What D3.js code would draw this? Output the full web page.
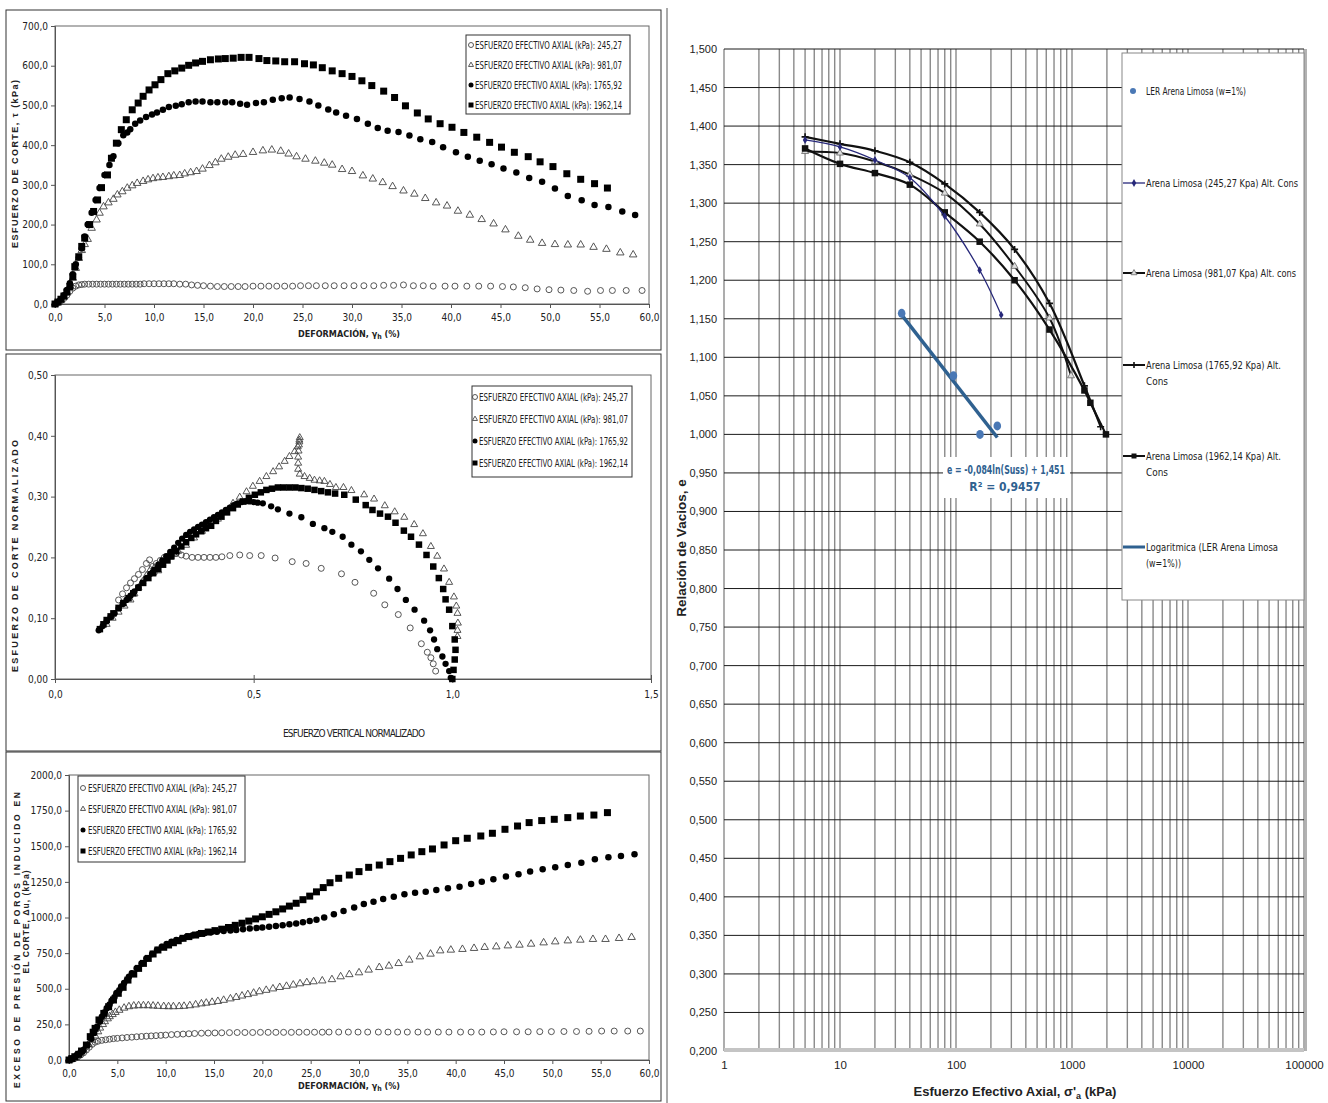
<!DOCTYPE html>
<html>
<head>
<meta charset="utf-8">
<script src="https://cdn.jsdelivr.net/npm/d3@7"></script>
<style>
body { margin: 0; background: #fff; }
text { font-family: "Liberation Sans Narrow", "DejaVu Sans Condensed", "Liberation Sans", sans-serif; }
</style>
</head>
<body>
<svg id="fig" width="1328" height="1103"></svg>
<script>
// ---------- data: shear stress vs strain (kPa vs %) ----------
var tauOc245 = [[0,0],[0.3,3],[0.6,8],[0.9,14],[1.2,22],[1.5,32],[1.8,40],[2.1,45],[2.4,48],[2.7,49],[3.0,50],[3.4,50],[3.8,50],[4.2,50],[4.6,50],[5.0,50],[5.4,50],[5.8,50],[6.2,50],[6.6,50],[7.0,50],[7.4,50],[7.8,50],[8.2,50],[8.6,50],[9.0,51],[9.5,51],[10.0,51],[10.5,51],[11.0,51],[11.5,51],[12.0,51],[12.6,50],[13.2,50],[13.8,48],[14.4,47],[15.0,46],[15.7,45],[16.4,44],[17.1,44],[17.8,44],[18.5,44],[19.2,44],[20.0,45],[20.8,45],[21.6,45],[22.4,45],[23.2,45],[24.0,45],[24.8,46],[25.6,46],[26.4,46],[27.3,46],[28.2,46],[29.2,46],[30.2,46],[31.2,46],[32.2,46],[33.2,47],[34.2,47],[35.2,48],[36.2,46],[37.2,46],[38.2,45],[39.4,45],[40.4,45],[41.6,45],[42.8,45],[44.0,45],[45.2,44],[46.3,43],[47.5,41],[48.7,38],[49.9,36],[51.1,35],[52.4,34],[53.8,32],[55.1,34],[56.3,34],[57.7,34],[59.3,34]];
var tauTri981 = [[0,0],[0.3,4],[0.6,10],[0.9,18],[1.2,30],[1.5,45],[1.8,65],[2.1,90],[2.4,115],[2.7,135],[3.0,150],[3.3,163],[3.7,191],[4.2,212],[4.5,229],[4.9,245],[5.4,255],[5.9,264],[6.3,275],[6.8,283],[7.3,292],[7.8,298],[8.3,304],[8.9,309],[9.4,313],[9.9,316],[10.4,318],[10.9,319],[11.5,321],[12.0,323],[12.6,324],[13.1,328],[13.7,331],[14.3,334],[14.9,340],[15.6,349],[16.2,356],[16.8,365],[17.5,370],[18.2,375],[19.0,377],[20.0,382],[21.0,386],[21.9,388],[22.8,385],[23.6,378],[24.4,371],[25.3,365],[26.3,360],[27.2,355],[28.0,350],[29.0,339],[30.0,334],[31.1,323],[32.1,315],[33.1,306],[34.1,296],[35.2,285],[36.3,277],[37.4,266],[38.5,255],[39.6,247],[40.7,234],[41.9,224],[43.1,213],[44.3,202],[45.5,187],[46.8,171],[48.0,161],[49.2,153],[50.5,150],[51.8,149],[53.1,149],[54.4,143],[55.7,138],[57.1,129],[58.4,124]];
var tauDot1765 = [[0,0],[0.3,5],[0.6,12],[0.9,22],[1.2,35],[1.5,52],[1.8,75],[2.1,100],[2.4,118],[2.7,140],[3.0,170],[3.3,200],[3.7,230],[4.1,262],[4.5,292],[5.0,325],[5.5,350],[5.9,372],[6.4,405],[6.9,425],[7.3,432],[7.6,440],[8.1,454],[8.6,462],[9.2,471],[9.8,477],[10.3,482],[10.9,489],[11.5,496],[12.2,499],[12.8,503],[13.5,508],[14.2,510],[14.9,510],[15.7,508],[16.4,508],[17.2,508],[17.9,508],[18.7,504],[19.4,502],[20.3,506],[21.1,508],[22.0,514],[22.9,518],[23.7,520],[24.7,516],[25.7,510],[26.6,500],[27.6,490],[28.4,482],[29.4,474],[30.5,466],[31.6,454],[32.6,443],[33.6,436],[34.7,433],[35.8,424],[36.9,415],[38.1,408],[39.2,395],[40.5,382],[41.7,371],[42.9,361],[44.1,352],[45.3,341],[46.6,331],[47.9,317],[49.2,308],[50.5,291],[51.8,272],[53.2,261],[54.5,249],[55.9,244],[57.3,233],[58.6,224]];
var tauSq1962 = [[0,0],[0.3,5],[0.6,12],[0.9,20],[1.2,30],[1.5,44],[1.8,69],[2.0,94],[2.4,119],[2.7,145],[3.0,166],[3.5,200],[3.9,233],[4.3,262],[4.7,293],[5.3,325],[5.7,367],[6.2,405],[6.7,439],[7.2,464],[7.8,489],[8.4,506],[8.9,523],[9.5,539],[10.1,552],[10.7,565],[11.4,580],[12.1,587],[12.8,594],[13.5,601],[14.2,607],[14.9,611],[15.7,615],[16.5,617],[17.2,618],[18.0,619],[18.8,621],[19.6,621],[20.6,618],[21.4,613],[22.3,612],[23.2,610],[24.2,610],[25.2,605],[26.1,602],[27.0,595],[28.0,587],[29.0,580],[30.0,573],[31.0,562],[32.0,550],[33.2,536],[34.3,520],[35.4,499],[36.6,481],[37.7,466],[38.9,454],[40.1,445],[41.3,432],[42.6,420],[43.9,407],[45.1,395],[46.4,382],[47.8,371],[49.0,358],[50.3,346],[51.7,328],[53.1,314],[54.5,303],[55.8,292]];

// ---------- data: normalised stress path ----------
var pathOc245 = [[0.16,0.13],[0.17,0.14],[0.18,0.15],[0.19,0.158],[0.2,0.165],[0.21,0.172],[0.22,0.18],[0.23,0.19],[0.238,0.196],[0.245,0.185],[0.25,0.175],[0.255,0.19],[0.265,0.195],[0.275,0.2],[0.29,0.204],[0.305,0.207],[0.318,0.204],[0.33,0.202],[0.345,0.2],[0.36,0.2],[0.375,0.2],[0.39,0.2],[0.405,0.2],[0.42,0.201],[0.44,0.203],[0.465,0.204],[0.49,0.203],[0.519,0.203],[0.554,0.199],[0.597,0.193],[0.632,0.19],[0.67,0.182],[0.721,0.173],[0.755,0.159],[0.802,0.141],[0.83,0.122],[0.864,0.106],[0.894,0.084],[0.922,0.058],[0.937,0.044],[0.946,0.035],[0.952,0.025],[0.958,0.013]];
var pathTri981 = [[0.13,0.09],[0.145,0.1],[0.16,0.11],[0.175,0.12],[0.19,0.13],[0.2,0.14],[0.21,0.15],[0.22,0.16],[0.23,0.17],[0.24,0.18],[0.25,0.183],[0.26,0.178],[0.27,0.19],[0.28,0.195],[0.29,0.2],[0.3,0.205],[0.31,0.21],[0.33,0.22],[0.35,0.232],[0.37,0.243],[0.39,0.252],[0.41,0.263],[0.431,0.275],[0.448,0.289],[0.465,0.299],[0.482,0.308],[0.498,0.317],[0.515,0.325],[0.532,0.333],[0.549,0.341],[0.564,0.349],[0.578,0.358],[0.59,0.366],[0.603,0.374],[0.611,0.382],[0.615,0.39],[0.616,0.397],[0.615,0.393],[0.614,0.385],[0.613,0.375],[0.612,0.365],[0.612,0.355],[0.612,0.345],[0.616,0.337],[0.628,0.333],[0.641,0.33],[0.653,0.327],[0.666,0.326],[0.678,0.325],[0.692,0.32],[0.707,0.315],[0.726,0.315],[0.746,0.31],[0.778,0.303],[0.803,0.296],[0.83,0.285],[0.855,0.275],[0.879,0.266],[0.904,0.254],[0.926,0.239],[0.946,0.218],[0.962,0.202],[0.979,0.181],[0.992,0.159],[1.004,0.135],[1.01,0.12],[1.013,0.108],[1.014,0.092],[1.013,0.08],[1.013,0.07]];
var pathDot1765 = [[0.11,0.08],[0.12,0.087],[0.13,0.095],[0.14,0.102],[0.15,0.108],[0.16,0.116],[0.17,0.123],[0.18,0.13],[0.19,0.137],[0.2,0.144],[0.21,0.151],[0.22,0.158],[0.23,0.166],[0.24,0.173],[0.25,0.18],[0.26,0.188],[0.27,0.195],[0.28,0.202],[0.29,0.209],[0.3,0.216],[0.31,0.224],[0.32,0.231],[0.33,0.237],[0.34,0.242],[0.35,0.246],[0.36,0.25],[0.37,0.254],[0.38,0.258],[0.39,0.262],[0.4,0.266],[0.41,0.27],[0.42,0.274],[0.43,0.278],[0.44,0.282],[0.45,0.286],[0.46,0.289],[0.47,0.291],[0.48,0.292],[0.49,0.292],[0.5,0.291],[0.51,0.29],[0.523,0.289],[0.544,0.284],[0.561,0.279],[0.59,0.272],[0.62,0.266],[0.649,0.255],[0.678,0.248],[0.698,0.242],[0.724,0.234],[0.746,0.221],[0.77,0.21],[0.791,0.196],[0.813,0.182],[0.841,0.165],[0.862,0.148],[0.883,0.13],[0.905,0.114],[0.929,0.096],[0.944,0.08],[0.954,0.065],[0.962,0.049],[0.975,0.037],[0.983,0.025],[0.992,0.013],[0.996,0.002]];
var pathSq1962 = [[0.113,0.082],[0.122,0.09],[0.13,0.097],[0.14,0.103],[0.147,0.108],[0.16,0.117],[0.172,0.125],[0.185,0.133],[0.197,0.141],[0.21,0.15],[0.222,0.158],[0.235,0.166],[0.247,0.174],[0.26,0.181],[0.272,0.188],[0.283,0.195],[0.293,0.202],[0.305,0.21],[0.318,0.218],[0.33,0.225],[0.343,0.232],[0.355,0.238],[0.368,0.243],[0.38,0.248],[0.393,0.252],[0.405,0.26],[0.419,0.267],[0.433,0.274],[0.448,0.281],[0.46,0.287],[0.473,0.292],[0.488,0.298],[0.503,0.303],[0.518,0.307],[0.532,0.311],[0.546,0.313],[0.561,0.315],[0.575,0.315],[0.59,0.315],[0.605,0.315],[0.62,0.314],[0.636,0.313],[0.653,0.311],[0.67,0.309],[0.687,0.307],[0.705,0.305],[0.728,0.303],[0.757,0.295],[0.782,0.286],[0.799,0.278],[0.818,0.272],[0.838,0.267],[0.857,0.257],[0.878,0.244],[0.896,0.234],[0.916,0.221],[0.935,0.204],[0.952,0.185],[0.966,0.166],[0.977,0.148],[0.983,0.131],[0.992,0.114],[1.0,0.087],[1.006,0.065],[1.008,0.048],[1.006,0.032],[1.003,0.015],[1.0,0.0]];

// ---------- data: excess pore pressure vs strain (kPa vs %) ----------
var duOc245 = [[0,0],[0.3,5],[0.6,12],[0.9,22],[1.2,35],[1.5,50],[1.8,70],[2.1,90],[2.4,110],[2.7,125],[3.0,132],[3.4,138],[3.8,142],[4.2,146],[4.6,150],[5.0,152],[5.5,155],[6.0,158],[6.5,160],[7.0,163],[7.5,165],[8.0,167],[8.5,169],[9.0,171],[9.5,173],[10.0,175],[10.6,178],[11.2,180],[11.8,182],[12.4,184],[13.0,186],[13.7,188],[14.4,189],[15.1,190],[15.8,191],[16.6,192],[17.4,193],[18.2,193],[19.0,193],[19.8,194],[20.6,194],[21.4,194],[22.2,194],[23.0,194],[23.8,195],[24.6,195],[25.4,195],[26.2,195],[26.9,196],[27.9,196],[28.9,196],[29.9,196],[30.9,196],[32.0,196],[33.0,196],[34.0,196],[35.0,196],[36.1,196],[37.1,196],[38.2,196],[39.3,196],[40.5,196],[41.6,196],[42.7,196],[43.9,197],[45.0,198],[46.3,198],[47.5,198],[48.7,199],[49.9,199],[51.2,200],[52.5,200],[53.8,201],[55.1,203],[56.4,203],[57.8,203],[59.1,203]];
var duTri981 = [[0,0],[0.3,5],[0.7,20],[1.1,45],[1.5,70],[2.0,110],[2.4,140],[2.7,170],[3.0,199],[3.2,225],[3.5,250],[3.7,270],[4.0,290],[4.2,305],[4.5,320],[4.8,335],[5.2,350],[5.7,365],[6.2,375],[6.7,380],[7.2,382],[7.7,382],[8.2,382],[8.7,380],[9.2,378],[9.8,376],[10.3,375],[10.8,375],[11.4,376],[11.9,378],[12.5,382],[13.1,388],[13.7,395],[14.2,400],[14.8,406],[15.4,412],[16.0,420],[16.7,430],[17.3,440],[17.9,450],[18.5,460],[19.1,470],[19.7,480],[20.4,490],[21.1,500],[21.8,510],[22.5,518],[23.2,527],[23.9,536],[24.6,544],[25.3,550],[26.2,556],[27.2,565],[28.1,585],[29.0,600],[30.0,613],[31.0,632],[32.1,650],[33.1,660],[34.1,678],[35.2,702],[36.3,725],[37.4,744],[38.4,767],[39.5,772],[40.7,777],[41.9,784],[43.0,791],[44.2,795],[45.4,802],[46.6,807],[47.8,814],[49.1,823],[50.3,830],[51.6,837],[52.9,842],[54.2,847],[55.5,847],[56.9,854],[58.2,861]];
var duDot1765 = [[0,0],[0.3,8],[0.8,35],[1.2,55],[1.5,70],[1.9,105],[2.3,150],[2.6,190],[2.9,234],[3.2,270],[3.4,304],[3.7,335],[3.9,363],[4.2,390],[4.4,416],[4.7,440],[4.9,468],[5.2,490],[5.4,515],[5.7,540],[6.0,561],[6.2,585],[6.5,608],[7.0,643],[7.5,678],[8.0,713],[8.6,744],[9.1,772],[9.6,795],[10.1,814],[10.6,830],[11.1,842],[11.7,854],[12.2,866],[12.8,876],[13.4,884],[14.0,890],[14.7,896],[15.3,900],[16.0,905],[16.7,909],[17.3,913],[18.0,918],[18.7,922],[19.4,926],[20.0,930],[20.7,935],[21.4,940],[22.1,946],[22.8,952],[23.5,958],[24.2,966],[24.9,975],[25.6,985],[26.4,1000],[27.4,1022],[28.4,1046],[29.5,1071],[30.5,1095],[31.5,1111],[32.5,1130],[33.6,1146],[34.7,1163],[35.8,1174],[36.9,1181],[38.0,1193],[39.2,1205],[40.4,1216],[41.6,1235],[42.7,1251],[43.9,1268],[45.2,1287],[46.5,1303],[47.7,1322],[49.0,1338],[50.3,1352],[51.6,1368],[53.0,1385],[54.4,1408],[55.8,1422],[57.1,1432],[58.5,1443]];
var duSq1962 = [[0,0],[0.3,10],[0.6,23],[1.0,40],[1.3,63],[1.8,105],[2.2,164],[2.5,195],[2.7,222],[3.1,281],[3.6,327],[4.1,374],[4.6,421],[5.1,468],[5.6,510],[6.1,561],[6.7,603],[7.2,643],[7.7,678],[8.2,713],[8.7,744],[9.2,772],[9.8,791],[10.3,807],[10.8,823],[11.3,837],[11.8,854],[12.4,866],[13.1,877],[13.7,888],[14.4,898],[15.1,908],[15.8,918],[16.5,930],[17.2,945],[17.9,960],[18.6,975],[19.3,990],[20.0,1005],[20.7,1022],[21.4,1040],[22.1,1060],[22.8,1080],[23.5,1100],[24.2,1125],[24.9,1150],[25.6,1180],[26.3,1210],[27.0,1244],[27.9,1275],[29.0,1298],[30.0,1322],[31.0,1352],[32.1,1368],[33.2,1392],[34.3,1415],[35.4,1439],[36.5,1462],[37.6,1481],[38.8,1509],[40.0,1539],[41.2,1556],[42.6,1572],[43.8,1591],[45.1,1619],[46.4,1642],[47.6,1666],[48.9,1680],[50.2,1689],[51.6,1701],[52.9,1712],[54.3,1719],[55.7,1736]];

var legendLabels = ["ESFUERZO EFECTIVO AXIAL (kPa): 245,27", "ESFUERZO EFECTIVO AXIAL (kPa): 981,07",
                    "ESFUERZO EFECTIVO AXIAL (kPa): 1765,92", "ESFUERZO EFECTIVO AXIAL (kPa): 1962,14"];
var markerKinds = ["oc", "tri", "dot", "sq"];

// ---------- data: void ratio vs axial effective stress ----------
var sig245 = [5, 10, 20, 40, 80, 160, 245.27];
var e245   = [1.382, 1.373, 1.356, 1.333, 1.283, 1.213, 1.155];
var sig981 = [5, 10, 20, 40, 80, 160, 320, 640, 981.07];
var e981   = [1.367, 1.365, 1.354, 1.337, 1.313, 1.273, 1.218, 1.151, 1.076];
var sig1765 = [5, 10, 20, 40, 80, 160, 320, 640, 1280, 1765.92];
var e1765   = [1.386, 1.377, 1.368, 1.353, 1.325, 1.288, 1.240, 1.170, 1.063, 1.010];
var sig1962 = [5, 10, 20, 40, 80, 160, 320, 640, 1280, 1440, 1962.14];
var e1962   = [1.371, 1.351, 1.339, 1.324, 1.288, 1.250, 1.200, 1.136, 1.057, 1.041, 1.000];
var sigLER = [34, 95, 161, 227];
var eLER   = [1.157, 1.076, 1.000, 1.011];
var sigTrend = [34, 227];
var eTrend   = [1.155, 0.996];
var xTicksR = [1, 10, 100, 1000, 10000, 100000];

var svg = d3.select("#fig");
svg.append("rect").attr("width", 1328).attr("height", 1103).attr("fill", "#fff");

var comma = function(f) { return function(v) { return d3.format(f)(v).replace(".", ","); }; };
var ARIAL = "'Liberation Sans',Arial,sans-serif";

function marker(g, kind, x, y, s) {
  var sym, sz;
  if (kind === "oc" || kind === "dot") { sym = d3.symbolCircle; sz = Math.PI * s * s / 4; }
  else if (kind === "tri") { sym = d3.symbolTriangle; sz = s * s * 0.433; }
  else { sym = d3.symbolSquare; sz = s * s; }
  var p = g.append("path").attr("d", d3.symbol(sym, sz)()).attr("transform", "translate(" + x + "," + y + ")");
  if (kind === "oc" || kind === "tri") p.attr("fill", "none").attr("stroke", "#444").attr("stroke-width", 0.9);
  else p.attr("fill", "#000");
  return p;
}

function panel(o) {
  var g = svg.append("g");
  g.append("rect").attr("x", o.frame[0]).attr("y", o.frame[1]).attr("width", o.frame[2]).attr("height", o.frame[3])
    .attr("fill", "none").attr("stroke", "#333").attr("stroke-width", 1);

  var x = d3.scaleLinear().domain(o.xDom).range([o.px0, o.px1]);
  var y = d3.scaleLinear().domain(o.yDom).range([o.py0, o.py1]);

  g.append("rect").attr("x", o.px0).attr("y", o.py1).attr("width", o.px1 - o.px0).attr("height", o.py0 - o.py1)
    .attr("fill", "none").attr("stroke", "#666").attr("stroke-width", 1);

  var ya = g.append("g").attr("transform", "translate(" + o.px0 + ",0)")
    .call(d3.axisLeft(y).tickValues(o.yTicks).tickFormat(o.yFmt).tickSize(4).tickPadding(3));
  var xa = g.append("g").attr("transform", "translate(0," + o.py0 + ")")
    .call(d3.axisBottom(x).tickValues(o.xTicks).tickFormat(o.xFmt).tickSize(4).tickPadding(o.xPad || 6));
  [ya, xa].forEach(function(a) {
    a.select(".domain").attr("stroke", "#555");
    a.selectAll(".tick line").attr("stroke", "#555");
    a.selectAll("text").attr("font-size", 10).attr("fill", "#222")
      .style("font-family", "'Liberation Sans Narrow','DejaVu Sans Condensed',sans-serif");
  });
  if (o.xTickCross) xa.selectAll(".tick line").attr("y1", -4);

  var plot = g.append("g");
  o.series.forEach(function(data, i) {
    data.forEach(function(d) { marker(plot, markerKinds[i], x(d[0]), y(d[1]), o.sizes[i]); });
  });

  // legend
  var L = o.legend;
  g.append("rect").attr("x", L.x).attr("y", L.y).attr("width", L.w).attr("height", L.h)
    .attr("fill", "#fff").attr("stroke", "#333").attr("stroke-width", 1);
  legendLabels.forEach(function(t, i) {
    var yy = L.rows[i];
    marker(g, markerKinds[i], L.mx, yy, 5);
    g.append("text").attr("x", L.tx).attr("y", yy + 3.5).attr("font-size", 10).attr("fill", "#222")
      .attr("textLength", L.tw).attr("lengthAdjust", "spacingAndGlyphs").text(t);
  });
  return g;
}

function vTitle(g, x, y, len, t, fs) {
  g.append("text").attr("transform", "translate(" + x + "," + y + ") rotate(-90)").attr("text-anchor", "middle")
    .attr("font-size", fs || 9).attr("font-weight", "bold").attr("fill", "#222")
    .attr("textLength", len).attr("lengthAdjust", "spacing").style("font-family", ARIAL).text(t);
}
function strainTitle(g, x, y) {
  var t = g.append("text").attr("x", x).attr("y", y).attr("text-anchor", "middle").attr("font-size", 9)
    .attr("font-weight", "bold").attr("fill", "#222");
  t.append("tspan").text("DEFORMACI\u00d3N, \u03b3");
  t.append("tspan").attr("font-size", 7).attr("dy", 2).text("h");
  t.append("tspan").attr("dy", -2).text(" (%)");
}

// ---------- panel 1 ----------
var p1 = panel({
  frame: [6, 10, 655, 340], px0: 55, px1: 649, py0: 304, py1: 26,
  xDom: [0, 60], yDom: [0, 700], xTicks: d3.range(0, 61, 5), yTicks: d3.range(0, 701, 100),
  xFmt: comma(".1f"), yFmt: comma(".1f"),
  series: [tauOc245, tauTri981, tauDot1765, tauSq1962], sizes: [6, 7.5, 6.5, 7],
  legend: { x: 466, y: 35, w: 164, h: 79, rows: [45, 65, 85, 105], mx: 471, tx: 475, tw: 147 }
});
vTitle(p1, 18, 164, 168, "ESFUERZO DE CORTE, \u03c4 (kPa)");
strainTitle(p1, 349, 337);

// ---------- panel 2 ----------
var p2 = panel({
  frame: [6, 354, 655, 397], px0: 55, px1: 651, py0: 679, py1: 375,
  xDom: [0, 1.5], yDom: [0, 0.5], xTicks: [0, 0.5, 1, 1.5], yTicks: d3.range(0, 0.501, 0.1),
  xFmt: comma(".1f"), yFmt: comma(".2f"), xPad: 8, xTickCross: true,
  series: [pathOc245, pathTri981, pathDot1765, pathSq1962], sizes: [6, 7, 6.3, 6.5],
  legend: { x: 472, y: 386, w: 160, h: 91, rows: [397, 419, 441, 463], mx: 475, tx: 479, tw: 149 }
});
vTitle(p2, 18, 556, 232, "ESFUERZO DE CORTE NORMALIZADO");
p2.append("text").attr("x", 354).attr("y", 737).attr("text-anchor", "middle").attr("font-size", 10)
  .attr("fill", "#222").attr("textLength", 142).attr("lengthAdjust", "spacing").text("ESFUERZO VERTICAL NORMALIZADO");

// ---------- panel 3 ----------
var p3 = panel({
  frame: [6, 752, 655, 349], px0: 69, px1: 649, py0: 1060, py1: 775,
  xDom: [0, 60], yDom: [0, 2000], xTicks: d3.range(0, 61, 5), yTicks: d3.range(0, 2001, 250),
  xFmt: comma(".1f"), yFmt: comma(".1f"),
  series: [duOc245, duTri981, duDot1765, duSq1962], sizes: [6, 7.5, 6.5, 7],
  legend: { x: 78, y: 776, w: 167, h: 86, rows: [788, 809, 830, 851], mx: 83, tx: 88, tw: 149 }
});
vTitle(p3, 20, 940, 296, "EXCESO DE PRESI\u00d3N DE POROS INDUCIDO EN", 8.5);
vTitle(p3, 29, 922, 103, "EL CORTE, \u0394u, (kPa)", 8.5);
strainTitle(p3, 349, 1089);

// ---------- right chart: e vs log sigma'a ----------
var R = svg.append("g");
R.append("line").attr("x1", 667).attr("x2", 667).attr("y1", 8).attr("y2", 1103).attr("stroke", "#555");

var xR = d3.scaleLog().domain([1, 100000]).range([724, 1304]);
var yR = d3.scaleLinear().domain([0.2, 1.5]).range([1051, 49]);

var vGrid = [];
for (var d = 0; d < 5; d++) for (var m = 1; m < 10; m++) vGrid.push(m * Math.pow(10, d));
vGrid.push(100000);
var hGrid = d3.range(0, 27).map(function(i) { return +(0.2 + i * 0.05).toFixed(3); });

R.append("g").selectAll("line").data(vGrid).enter().append("line")
  .attr("x1", function(v) { return xR(v); }).attr("x2", function(v) { return xR(v); })
  .attr("y1", yR(1.5)).attr("y2", yR(0.2)).attr("stroke", "#8a8a8a").attr("stroke-width", 1.4);
R.append("g").selectAll("line").data(hGrid).enter().append("line")
  .attr("x1", xR(1)).attr("x2", xR(100000))
  .attr("y1", function(v) { return yR(v); }).attr("y2", function(v) { return yR(v); })
  .attr("stroke", "#1a1a1a").attr("stroke-width", 1);
R.append("line").attr("x1", xR(1)).attr("x2", xR(100000)).attr("y1", yR(0.2) - 1).attr("y2", yR(0.2) - 1)
  .attr("stroke", "#c4c4c4").attr("stroke-width", 4);
R.append("line").attr("x1", xR(100000) + 2).attr("x2", xR(100000) + 2).attr("y1", yR(1.5)).attr("y2", yR(0.2))
  .attr("stroke", "#999").attr("stroke-width", 1.5);

var ya = R.append("g").attr("transform", "translate(" + xR(1) + ",0)")
  .call(d3.axisLeft(yR).tickValues(hGrid).tickFormat(comma(".3f")).tickSize(0).tickPadding(7));
ya.select(".domain").remove();
ya.selectAll("text").attr("font-size", 11).attr("fill", "#222").style("font-family", ARIAL);
var xa = R.append("g").attr("transform", "translate(0," + yR(0.2) + ")")
  .call(d3.axisBottom(xR).tickValues(xTicksR).tickFormat(d3.format("d")).tickSize(0).tickPadding(10));
xa.select(".domain").remove();
xa.selectAll("text").attr("font-size", 11.5).attr("fill", "#222").style("font-family", ARIAL);

R.append("text").attr("transform", "translate(686,548) rotate(-90)").attr("text-anchor", "middle")
  .attr("font-size", 13.5).attr("font-weight", "bold").attr("fill", "#222")
  .style("font-family", ARIAL).text("Relaci\u00f3n de Vacios, e");
var tx = R.append("text").attr("x", 1015).attr("y", 1096).attr("text-anchor", "middle").attr("font-size", 13)
  .attr("font-weight", "bold").attr("fill", "#222").style("font-family", ARIAL);
tx.append("tspan").text("Esfuerzo Efectivo Axial, \u03c3'");
tx.append("tspan").attr("font-size", 9).attr("dy", 3).text("a");
tx.append("tspan").attr("dy", -3).text(" (kPa)");

var zip = function(a, b) { return a.map(function(v, i) { return [v, b[i]]; }); };
var lineR = d3.line().x(function(d) { return xR(d[0]); }).y(function(d) { return yR(d[1]); })
  .curve(d3.curveCatmullRom.alpha(0.5));

function markR(g, kind, x, y, color, ms) {
  if (kind === "tri") {
    g.append("path").attr("d", d3.symbol(d3.symbolTriangle, ms * ms * 0.43)()).attr("transform", "translate(" + x + "," + y + ")")
      .attr("fill", "#ddd").attr("stroke", "#666").attr("stroke-width", 0.8);
  } else if (kind === "sq") {
    g.append("rect").attr("x", x - ms / 2).attr("y", y - ms / 2).attr("width", ms).attr("height", ms).attr("fill", color);
  } else if (kind === "plus") {
    g.append("path").attr("d", "M" + (x - ms / 2) + "," + y + "H" + (x + ms / 2) + "M" + x + "," + (y - ms / 2) + "V" + (y + ms / 2))
      .attr("stroke", color).attr("stroke-width", 1.6);
  } else if (kind === "diam") {
    g.append("path").attr("d", d3.symbol(d3.symbolDiamond, ms * ms * 0.5)()).attr("transform", "translate(" + x + "," + y + ")")
      .attr("fill", color);
  } else {
    g.append("circle").attr("cx", x).attr("cy", y).attr("r", ms / 2).attr("fill", color);
  }
}
function seriesR(sx, sy, color, width, kind, ms) {
  var pts = zip(sx, sy);
  R.append("path").datum(pts).attr("d", lineR).attr("fill", "none").attr("stroke", color).attr("stroke-width", width);
  pts.forEach(function(p) { markR(R, kind, xR(p[0]), yR(p[1]), color, ms); });
}

var navy = "#27287a", steel = "#2f6190", dotBlue = "#4a78b5";
seriesR(sig981, e981, "#111", 2, "tri", 7);
seriesR(sig1765, e1765, "#111", 2.2, "plus", 7);
seriesR(sig1962, e1962, "#111", 2.2, "sq", 6.5);
seriesR(sig245, e245, navy, 1.3, "diam", 6);

R.append("path").datum(zip(sigTrend, eTrend)).attr("d", d3.line().x(function(d) { return xR(d[0]); }).y(function(d) { return yR(d[1]); }))
  .attr("stroke", steel).attr("stroke-width", 3.5).attr("fill", "none");
zip(sigLER, eLER).forEach(function(p) {
  R.append("ellipse").attr("cx", xR(p[0])).attr("cy", yR(p[1])).attr("rx", 3.8).attr("ry", 4.5).attr("fill", dotBlue);
});

// equation label
R.append("rect").attr("x", 943).attr("y", 457).attr("width", 127).attr("height", 41).attr("fill", "#fff");
R.append("text").attr("x", 1006).attr("y", 474).attr("text-anchor", "middle").attr("font-size", 12)
  .attr("font-weight", "bold").attr("fill", steel).attr("textLength", 118).attr("lengthAdjust", "spacingAndGlyphs")
  .text("e = -0,084ln(Suss)  + 1,451");
R.append("text").attr("x", 1005).attr("y", 491).attr("text-anchor", "middle").attr("font-size", 12)
  .attr("font-weight", "bold").attr("fill", steel).text("R\u00b2 = 0,9457");

// legend
var LG = R.append("g");
LG.append("rect").attr("x", 1122).attr("y", 53).attr("width", 182).attr("height", 547)
  .attr("fill", "#fff").attr("stroke", "#888").attr("stroke-width", 1);
var legR = [
  { y: 91, lines: ["LER Arena Limosa (w=1%)"], w: [100], kind: "dot", color: dotBlue },
  { y: 183, lines: ["Arena Limosa (245,27 Kpa) Alt. Cons"], w: [152], kind: "diam", color: navy },
  { y: 273, lines: ["Arena Limosa (981,07 Kpa) Alt. cons"], w: [150], kind: "tri", color: "#111" },
  { y: 365, lines: ["Arena Limosa (1765,92 Kpa) Alt.", "Cons"], w: [135, 22], kind: "plus", color: "#111" },
  { y: 456, lines: ["Arena Limosa (1962,14 Kpa) Alt.", "Cons"], w: [135, 22], kind: "sq", color: "#111" },
  { y: 547, lines: ["Logaritmica (LER Arena Limosa", "(w=1%))"], w: [132, 35], kind: "trend", color: steel }
];
legR.forEach(function(e) {
  if (e.kind === "dot") {
    LG.append("circle").attr("cx", 1133).attr("cy", e.y).attr("r", 3).attr("fill", e.color);
  } else if (e.kind === "trend") {
    LG.append("line").attr("x1", 1123).attr("x2", 1145).attr("y1", e.y).attr("y2", e.y).attr("stroke", e.color).attr("stroke-width", 3);
  } else {
    LG.append("line").attr("x1", 1123).attr("x2", 1145).attr("y1", e.y).attr("y2", e.y)
      .attr("stroke", e.color).attr("stroke-width", e.kind === "diam" ? 1.3 : 2);
    markR(LG, e.kind, 1134, e.y, e.color, e.kind === "sq" ? 5 : 6);
  }
  e.lines.forEach(function(t, k) {
    LG.append("text").attr("x", 1146).attr("y", e.y + 4 + k * 16).attr("font-size", 10.5)
      .attr("fill", "#222").attr("textLength", e.w[k]).attr("lengthAdjust", "spacingAndGlyphs").text(t);
  });
});
</script>
</body>
</html>
